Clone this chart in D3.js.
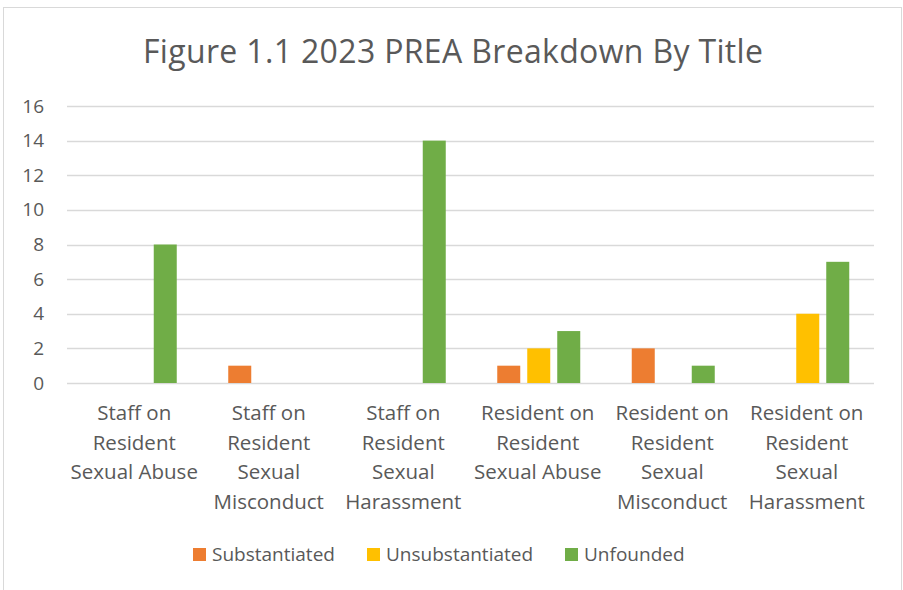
<!DOCTYPE html>
<html>
<head>
<meta charset="utf-8">
<script src="https://cdn.jsdelivr.net/npm/d3@7"></script>
<style>
  body { margin: 0; background: #fff; }
  text { font-family: "Open Sans", "Noto Sans", sans-serif; fill: #595959; }
</style>
</head>
<body>
<svg id="chart" width="903" height="590"></svg>
<script>
// chart values
var categories = [
  ["Staff on", "Resident", "Sexual Abuse"],
  ["Staff on", "Resident", "Sexual", "Misconduct"],
  ["Staff on", "Resident", "Sexual", "Harassment"],
  ["Resident on", "Resident", "Sexual Abuse"],
  ["Resident on", "Resident", "Sexual", "Misconduct"],
  ["Resident on", "Resident", "Sexual", "Harassment"]
]
var seriesNames = ["Substantiated", "Unsubstantiated", "Unfounded"]
var substantiated = [0, 1, 0, 1, 2, 0]
var unsubstantiated = [0, 0, 0, 2, 0, 4]
var unfounded = [8, 0, 14, 3, 1, 7]
var yTicks = [0, 2, 4, 6, 8, 10, 12, 14, 16]
var colors = ["#ED7D31", "#FFC000", "#70AD47"]

function draw(){
  var svg = d3.select('svg#chart')
  var values = [substantiated, unsubstantiated, unfounded]

  // chart frame
  svg.append('rect')
    .attr('x', 3.5).attr('y', 7.5)
    .attr('width', 898).attr('height', 600)
    .style('fill', '#fff')
    .style('stroke', '#d9d9d9')

  svg.append('text')
    .attr('x', 453).attr('y', 63)
    .attr('text-anchor', 'middle')
    .style('font-size', '32px')
    .attr('textLength', 620)
    .text('Figure 1.1 2023 PREA Breakdown By Title')

  var left = 67, right = 874, top = 106, bottom = 383
  var x = d3.scaleBand()
    .domain(d3.range(categories.length))
    .range([left, right])
  var inner = d3.scaleBand()
    .domain(d3.range(seriesNames.length))
    .range([0, 83])
    .paddingInner(7 / 30)
  var y = d3.scaleLinear()
    .domain([0, 16])
    .range([bottom, top])

  // gridlines
  svg.append('g')
    .selectAll('line')
    .data(yTicks)
    .enter()
    .append('line')
    .attr('x1', left).attr('x2', right)
    .attr('y1', function(d){return Math.round(y(d)) + 0.5})
    .attr('y2', function(d){return Math.round(y(d)) + 0.5})
    .style('stroke', '#d9d9d9')
    .style('stroke-width', '1.3')

  svg.append('g')
    .selectAll('text')
    .data(yTicks)
    .enter()
    .append('text')
    .attr('x', 44)
    .attr('y', function(d){return y(d) + 6.5})
    .attr('text-anchor', 'end')
    .style('font-size', '19px')
    .text(function(d){return d})

  // bars
  var off = (x.bandwidth() - 83) / 2 + 1
  values.forEach(function(vals, s){
    svg.append('g')
      .selectAll('rect')
      .data(vals)
      .enter()
      .append('rect')
      .attr('x', function(d, i){return x(i) + off + inner(s)})
      .attr('y', function(d){return y(d)})
      .attr('width', inner.bandwidth())
      .attr('height', function(d){return bottom - y(d)})
      .style('fill', colors[s])
  })

  // category labels
  var cat = svg.append('g')
    .selectAll('text')
    .data(categories)
    .enter()
    .append('text')
    .attr('text-anchor', 'middle')
    .style('font-size', '20.5px')
  cat.selectAll('tspan')
    .data(function(d, i){return d.map(function(t){return {t: t, i: i}})})
    .enter()
    .append('tspan')
    .attr('x', function(d){return x(d.i) + x.bandwidth() / 2})
    .attr('y', function(d, j){return 420 + j * 29.6})
    .text(function(d){return d.t})

  // legend
  var legendX = [193, 367, 565]
  var leg = svg.append('g')
    .selectAll('g')
    .data(seriesNames)
    .enter()
    .append('g')
  leg.append('rect')
    .attr('x', function(d, i){return legendX[i]})
    .attr('y', 548)
    .attr('width', 13).attr('height', 13)
    .style('fill', function(d, i){return colors[i]})
  leg.append('text')
    .attr('x', function(d, i){return legendX[i] + 19})
    .attr('y', 561)
    .style('font-size', '19px')
    .text(function(d){return d})
}
draw()
</script>
</body>
</html>
